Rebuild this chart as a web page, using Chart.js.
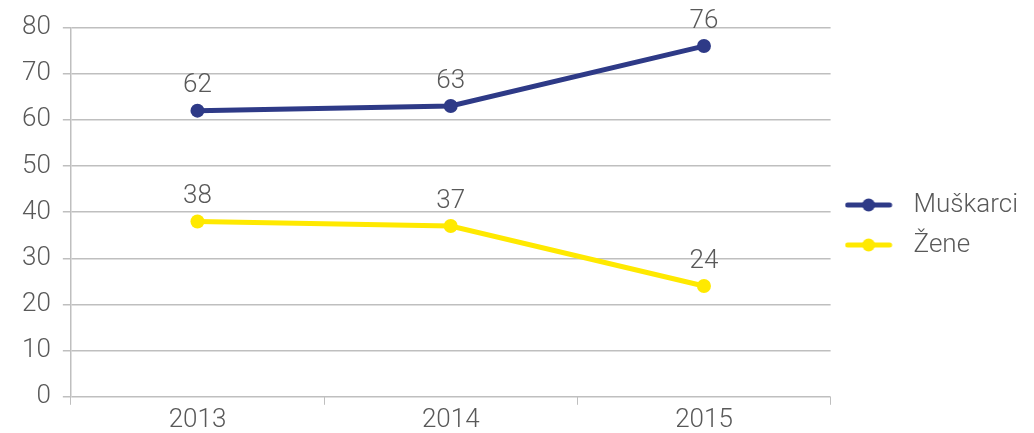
<!DOCTYPE html>
<html>
<head>
<meta charset="utf-8">
<script src="https://cdn.jsdelivr.net/npm/chart.js@4/dist/chart.umd.min.js"></script>
<style>
    html, body { margin: 0; padding: 0; background: #fff; }
    #wrap { width: 1034px; height: 433px; }
</style>
</head>
<body>
<div id="wrap"><canvas id="myChart"></canvas></div>
<script>
const YEARS = ["2013", "2014", "2015"];
const MUSKARCI = [62, 63, 76];
const ZENE = [38, 37, 24];
const SERIES_LABELS = ["Muškarci", "Žene"];
const SERIES_COLORS = ["#2e3a87", "#ffe900"];

const TEXT_COLOR = "#595959";
const GRID_COLOR = "#bfbfbf";
const FONT = { family: "Roboto", weight: "300", size: 26 };

// little line-with-dot swatch used as the legend marker
// (extra transparent room on the right keeps the text further away)
function legendSwatch(color) {
    const c = document.createElement("canvas");
    c.width = 56;
    c.height = 16;
    const g = c.getContext("2d");
    g.strokeStyle = color;
    g.lineWidth = 5;
    g.lineCap = "round";
    g.beginPath();
    g.moveTo(3, 8);
    g.lineTo(45, 8);
    g.stroke();
    g.fillStyle = color;
    g.beginPath();
    g.arc(24, 8, 6.5, 0, Math.PI * 2);
    g.fill();
    return c;
}

// value labels above each point
const valueLabels = {
    id: "valueLabels",
    afterDatasetsDraw(chart) {
        const ctx = chart.ctx;
        ctx.save();
        ctx.font = FONT.weight + " " + FONT.size + "px " + FONT.family;
        ctx.fillStyle = TEXT_COLOR;
        ctx.textAlign = "center";
        ctx.textBaseline = "middle";
        chart.data.datasets.forEach((ds, i) => {
            chart.getDatasetMeta(i).data.forEach((pt, j) => {
                ctx.fillText(String(ds.data[j]), pt.x, pt.y - 25);
            });
        });
        ctx.restore();
    },
};

const data1 = {
    labels: YEARS,
    datasets: [
        {
            label: SERIES_LABELS[0],
            data: MUSKARCI,
            borderColor: SERIES_COLORS[0],
            backgroundColor: SERIES_COLORS[0],
        },
        {
            label: SERIES_LABELS[1],
            data: ZENE,
            borderColor: SERIES_COLORS[1],
            backgroundColor: SERIES_COLORS[1],
        },
    ],
};

const config1 = {
    type: "line",
    data: data1,
    options: {
        responsive: true,
        maintainAspectRatio: false,
        animation: false,
        layout: { padding: { left: 10, top: 14, right: 6, bottom: -3 } },
        elements: {
            line: { borderWidth: 5, tension: 0, borderCapStyle: "round" },
            point: { radius: 7, hoverRadius: 7, borderWidth: 0 },
        },
        plugins: {
            tooltip: { enabled: false },
            legend: {
                position: "right",
                labels: {
                    color: TEXT_COLOR,
                    font: FONT,
                    usePointStyle: true,
                    pointStyleWidth: 56,
                    padding: 14,
                    generateLabels(chart) {
                        return chart.data.datasets.map((ds, i) => ({
                            text: ds.label,
                            pointStyle: legendSwatch(ds.borderColor),
                            fillStyle: ds.borderColor,
                            strokeStyle: ds.borderColor,
                            lineWidth: 0,
                            fontColor: TEXT_COLOR,
                            hidden: false,
                            datasetIndex: i,
                        }));
                    },
                },
            },
        },
        scales: {
            x: {
                offset: true,
                grid: {
                    offset: true,
                    drawOnChartArea: false,
                    drawTicks: true,
                    tickLength: 8,
                    color: GRID_COLOR,
                },
                border: { display: false },
                ticks: { color: TEXT_COLOR, font: FONT, padding: 0 },
            },
            y: {
                min: 0,
                max: 80,
                ticks: { stepSize: 10, color: TEXT_COLOR, font: FONT, padding: 12 },
                grid: { color: GRID_COLOR, tickLength: 8, lineWidth: 1.5 },
                border: { display: true, color: GRID_COLOR, width: 1.5 },
            },
        },
    },
    plugins: [valueLabels],
};

var ctx = document.getElementById("myChart").getContext("2d");
var myChart = new Chart(ctx, config1);
</script>
</body>
</html>
